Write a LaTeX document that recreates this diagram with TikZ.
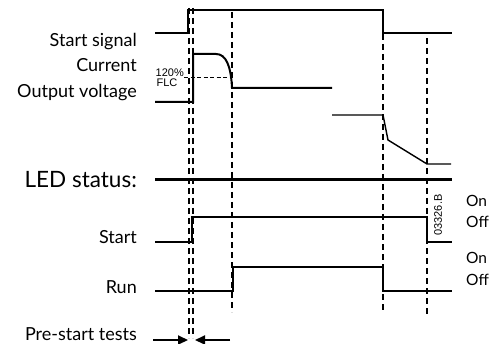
\documentclass[tikz,border=0pt]{standalone}
\usepackage{fontspec}
\setmainfont{Lato}
\newfontfamily\arialf{Liberation Sans}
\usetikzlibrary{arrows.meta}
\begin{document}
\begin{tikzpicture}[x=1pt,y=-1pt,
  sig/.style={line width=2pt},
  thin sig/.style={line width=1.4pt},
  guide/.style={line width=2pt,dash pattern=on 6pt off 4pt},
  lbl/.style={anchor=base east,font=\fontsize{18}{18}\selectfont,inner sep=0pt},
  onoff/.style={anchor=base west,font=\fontsize{15.5}{15.5}\selectfont,inner sep=0pt},
  small/.style={font=\arialf\fontsize{11}{11}\selectfont,inner sep=0pt}]
\useasboundingbox (0,0) rectangle (494,344);
% labels
\node[lbl] (l1) at (137,47) {Start signal};
\node[lbl] (l2) at (137,72) {Current};
\node[lbl] (l3) at (137,98) {Output voltage};
\node[lbl,font=\fontsize{22.5}{22.5}\selectfont] (l4) at (137,188) {LED status:};
\node[lbl] (l5) at (137,243) {Start};
\node[lbl] (l6) at (137,293) {Run};
\node[lbl] (l7) at (137,340) {Pre-start tests};
\node[onoff] (o1) at (466,207) {On};
\node[onoff] (o2) at (466,228) {Off};
\node[onoff] (o3) at (466,263) {On};
\node[onoff] (o4) at (466,285) {Off};
\node[small,anchor=east] (p1) at (184,73) {120\%};
\node[small] (p2) at (167,83) {FLC};
\node[small,rotate=90] (code) at (438,215) {03326.B};
% dashed guides
\draw[guide] (189,8) -- (189,338);
\draw[guide] (193,8) -- (193,338);
\draw[guide] (232,12) -- (232,312);
\draw[guide] (383,34) -- (383,312);
\draw[guide] (427,38) -- (427,315);
\draw[line width=1pt,dash pattern=on 4pt off 2.5pt] (184,78) -- (232,78);
% start signal
\draw[sig] (155,33) -- (188,33) -- (188,10) -- (383,10) -- (383,33) -- (452,33);
% current
\draw[sig] (155,102) -- (193,102) -- (193,54) -- (216,54) .. controls (226,54) and (231,66) .. (232,88) -- (332,88);
% output voltage
\draw[thin sig] (332,115) -- (383,115) -- (388,140) -- (427,164) -- (451,164);
% LED status line
\draw[line width=3pt] (155,180) -- (452,180);
% Start LED
\draw[sig] (155,242) -- (192,242) -- (192,217) -- (427,217) -- (427,242) -- (452,242);
% Run LED
\draw[sig] (155,291) -- (233,291) -- (233,267) -- (383,267) -- (383,291) -- (452,291);
% pre-start arrows
\coordinate (a1) at (153,340);
\coordinate (a2) at (188,340);
\coordinate (b1) at (230,340);
\coordinate (b2) at (195,340);
\draw[sig,-{Triangle[length=10pt,width=9pt]}] (a1) -- (a2);
\draw[sig,-{Triangle[length=10pt,width=9pt]}] (b1) -- (b2);
\end{tikzpicture}
\end{document}
